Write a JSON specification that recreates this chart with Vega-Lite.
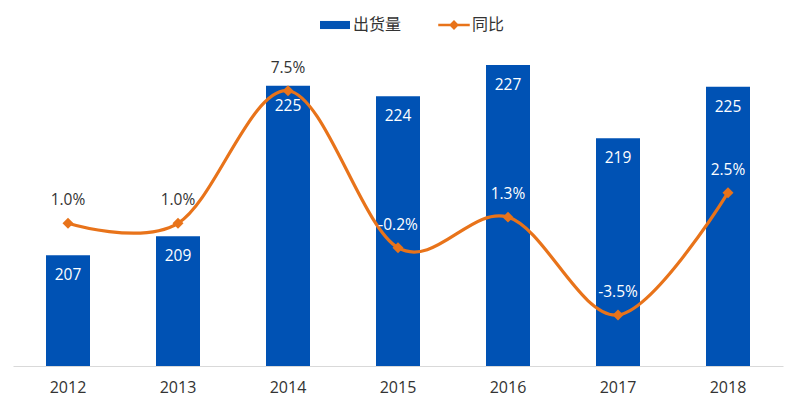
{
  "$schema": "https://vega.github.io/schema/vega-lite/v6.json",
  "width": 770,
  "height": 323,
  "autosize": {"type": "none"},
  "padding": {"left": 13, "top": 43, "right": 17, "bottom": 45},
  "background": "white",
  "config": {"view": {"stroke": null}, "font": "Open Sans"},
  "data": {
    "values": [
      {"year": 2012, "shipments": 207, "yoy": 1.0},
      {"year": 2013, "shipments": 209, "yoy": 1.0},
      {"year": 2014, "shipments": 224.8, "yoy": 7.5},
      {"year": 2015, "shipments": 223.7, "yoy": -0.2},
      {"year": 2016, "shipments": 227, "yoy": 1.3},
      {"year": 2017, "shipments": 219.3, "yoy": -3.5},
      {"year": 2018, "shipments": 224.7, "yoy": 2.5}
    ]
  },
  "encoding": {
    "x": {
      "field": "year",
      "type": "ordinal",
      "scale": {"paddingInner": 0.6, "paddingOuter": 0.3},
      "axis": {
        "title": null,
        "labelAngle": 0,
        "ticks": false,
        "domainColor": "#D9D9D9",
        "domainWidth": 1,
        "labelFontSize": 16,
        "labelColor": "#333333",
        "labelPadding": 13,
        "labelFont": "Open Sans",
        "zindex": 1
      }
    }
  },
  "layer": [
    {
      "mark": {"type": "bar", "clip": true},
      "encoding": {
        "y": {"field": "shipments", "type": "quantitative", "scale": {"domain": [195.35, 229.3], "zero": false, "nice": false}, "axis": null},
        "color": {
          "datum": "出货量",
          "type": "nominal",
          "scale": {"domain": ["出货量", "同比"], "range": ["#0052B4", "#E8731A"]},
          "legend": {
            "title": null,
            "orient": "none",
            "legendX": 307,
            "legendY": -33,
            "direction": "horizontal",
            "symbolSize": 900,
            "labelFont": "Noto Sans CJK SC",
            "labelFontSize": 16,
            "labelColor": "#333333",
            "labelOffset": 3,
            "columnPadding": 36,
            "padding": 0,
            "encode": {
              "symbols": {
                "update": {
                  "shape": {"signal": "datum.value === '出货量' ? 'M-1,-0.27H1V0.27H-1Z' : 'M-1.05,-0.08H1.05V0.08H-1.05Z M0,-0.33L0.33,0L0,0.33L-0.33,0Z'"},
                  "fill": {"signal": "datum.value === '出货量' ? '#0052B4' : '#E8731A'"},
                  "stroke": {"value": "transparent"},
                  "strokeWidth": {"value": 0},
                  "opacity": {"value": 1}
                }
              }
            }
          }
        }
      }
    },
    {
      "mark": {"type": "text", "baseline": "middle", "dy": 20, "color": "white", "fontSize": 15.5, "font": "Open Sans"},
      "encoding": {
        "y": {"field": "shipments", "type": "quantitative", "scale": {"domain": [195.35, 229.3], "zero": false, "nice": false}, "axis": null},
        "text": {"field": "shipments", "type": "quantitative", "format": ".0f"}
      }
    },
    {
      "mark": {"type": "line", "interpolate": "cardinal", "strokeWidth": 3.2},
      "encoding": {
        "y": {"field": "yoy", "type": "quantitative", "scale": {"domain": [-6, 9.84], "zero": false, "nice": false}, "axis": null},
        "color": {"datum": "同比", "type": "nominal"}
      }
    },
    {
      "mark": {"type": "point", "shape": "diamond", "filled": true, "size": 120, "opacity": 1, "color": "#E8731A"},
      "encoding": {
        "y": {"field": "yoy", "type": "quantitative", "scale": {"domain": [-6, 9.84], "zero": false, "nice": false}, "axis": null}
      }
    },
    {
      "mark": {"type": "text", "baseline": "middle", "dy": -23, "fontSize": 15.5, "font": "Open Sans", "text": {"expr": "replace(format(datum.yoy, '.1f'), '\u2212', '-') + '%'"}},
      "encoding": {
        "y": {"field": "yoy", "type": "quantitative", "scale": {"domain": [-6, 9.84], "zero": false, "nice": false}, "axis": null},
        "color": {"condition": {"test": "datum.year >= 2015", "value": "white"}, "value": "#333333"}
      }
    }
  ],
  "resolve": {"scale": {"y": "independent"}}
}
